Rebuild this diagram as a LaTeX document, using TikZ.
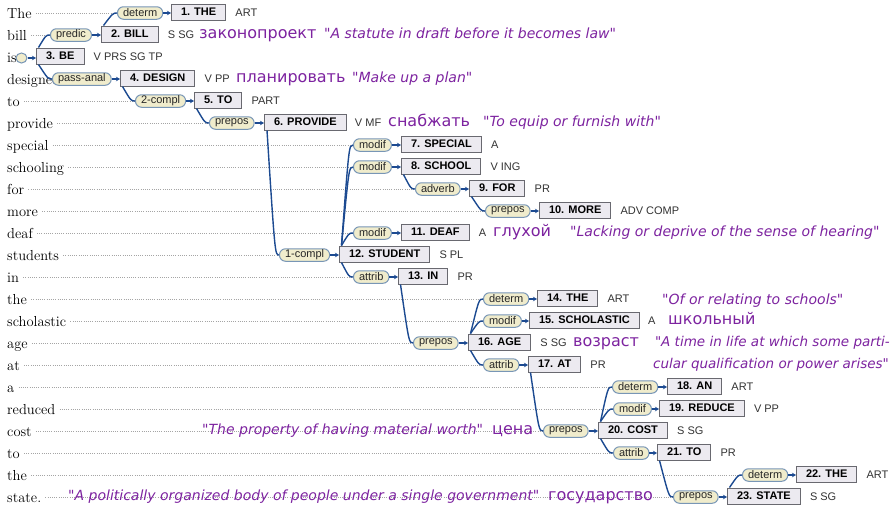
\documentclass[tikz,border=0pt]{standalone}
\usepackage{fontspec}
\newfontfamily\arialf{Liberation Sans}
\newfontfamily\rusf{DejaVu Sans}[ItalicFont={DejaVu Sans Oblique}]
\usetikzlibrary{arrows.meta,calc,shapes.geometric}
\definecolor{boxfill}{RGB}{236,234,240}
\definecolor{boxline}{RGB}{105,105,112}
\definecolor{labfill}{RGB}{240,236,204}
\definecolor{labline}{RGB}{120,150,182}
\definecolor{conncol}{RGB}{28,74,145}
\definecolor{rupurple}{RGB}{125,35,160}
\definecolor{dotcol}{RGB}{165,165,165}
\pgfdeclarelayer{bg}
\pgfsetlayers{bg,main}
\begin{document}
\begin{tikzpicture}[x=1pt,y=-1pt,
  word/.style={font=\fontsize{14.5}{16}\selectfont, text=black, anchor=base west, inner sep=0pt},
  box/.style={draw=boxline, fill=boxfill, line width=1pt, font=\arialf\bfseries\fontsize{11}{13}\selectfont, inner xsep=9.5pt, inner ysep=0pt, minimum height=16pt, anchor=west},
  lab/.style={draw=labline, fill=labfill, line width=1pt, rounded corners=6pt, font=\arialf\fontsize{11}{13}\selectfont, text=black!85, inner xsep=5.5pt, inner ysep=0pt, minimum height=12.5pt, anchor=west},
  tag/.style={font=\arialf\fontsize{11}{13}\selectfont, text=black!80, anchor=base west, inner sep=0pt},
  rus/.style={font=\rusf\fontsize{16}{18}\selectfont, text=rupurple, anchor=base west, inner sep=0pt},
  gloss/.style={font=\rusf\itshape\fontsize{14}{16}\selectfont, text=rupurple, anchor=base west, inner sep=0pt},
  conn/.style={draw=conncol, line width=1.4pt},
  arr/.style={draw=conncol, line width=1.1pt, -{Stealth[length=4pt,width=4.5pt]}},
  dotl/.style={draw=dotcol, line width=0.7pt, dash pattern=on 0.8pt off 1.4pt}
]
\useasboundingbox (0,0) rectangle (896,507);

% sentence words
\node[word] (w0) at (7,18) {The};
\node[word] (w1) at (7,40) {bill};
\node[word] (w2) at (7,62) {is};
\node[word] (w3) at (7,84) {designed};
\node[word] (w4) at (7,106) {to};
\node[word] (w5) at (7,128) {provide};
\node[word] (w6) at (7,150) {special};
\node[word] (w7) at (7,172) {schooling};
\node[word] (w8) at (7,194) {for};
\node[word] (w9) at (7,216) {more};
\node[word] (w10) at (7,238) {deaf};
\node[word] (w11) at (7,260) {students};
\node[word] (w12) at (7,282) {in};
\node[word] (w13) at (7,304) {the};
\node[word] (w14) at (7,326) {scholastic};
\node[word] (w15) at (7,348) {age};
\node[word] (w16) at (7,370) {at};
\node[word] (w17) at (7,392) {a};
\node[word] (w18) at (7,414) {reduced};
\node[word] (w19) at (7,436) {cost};
\node[word] (w20) at (7,458) {to};
\node[word] (w21) at (7,480) {the};
\node[word] (w22) at (7,502) {state.};

% glosses and translations
\node[rus] (r2) at (199,38.5) {законопроект};
\node[gloss] (g2) at (324,38.5) {"A statute in draft before it becomes law"};
\node[rus] (r4) at (236,82.5) {планировать};
\node[gloss] (g4) at (352,82.5) {"Make up a plan"};
\node[rus] (r6) at (388,126.5) {снабжать};
\node[gloss] (g6) at (483,126.5) {"To equip or furnish with"};
\node[rus] (r11) at (493,236.5) {глухой};
\node[gloss] (g11) at (570,236.5) {"Lacking or deprive of the sense of hearing"};
\node[gloss] (g14) at (662,304) {"Of or relating to schools"};
\node[rus] (r15) at (668,324.5) {школьный};
\node[rus] (r16) at (573,346.5) {возраст};
\node[gloss, anchor=base east, font=\rusf\itshape\fontsize{13.5}{16}\selectfont] (g16) at (890,346.5) {"A time in life at which some parti-};
\node[gloss, anchor=base east, font=\rusf\itshape\fontsize{13.5}{16}\selectfont] (g16b) at (889,368.5) {cular qualification or power arises"};
\node[gloss] (g20) at (202,434.5) {"The property of having material worth"};
\node[rus] (r20) at (492,434.5) {цена};
\node[gloss] (g23) at (68,500.5) {"A politically organized body of people under a single government"};
\node[rus] (r23) at (548,500.5) {государство};

% word boxes
\node[box] (n1) at (171,12) {1. THE};
\node[box] (n2) at (101,34) {2. BILL};
\node[box] (n3) at (36,56) {3. BE};
\node[box] (n4) at (120,78) {4. DESIGN};
\node[box] (n5) at (194,100) {5. TO};
\node[box] (n6) at (264,122) {6. PROVIDE};
\node[box] (n7) at (401,144) {7. SPECIAL};
\node[box] (n8) at (401,166) {8. SCHOOL};
\node[box] (n9) at (469,188) {9. FOR};
\node[box] (n10) at (539,210) {10. MORE};
\node[box] (n11) at (401,232) {11. DEAF};
\node[box] (n12) at (339,254) {12. STUDENT};
\node[box] (n13) at (398,276) {13. IN};
\node[box] (n14) at (537,298) {14. THE};
\node[box] (n15) at (529,320) {15. SCHOLASTIC};
\node[box] (n16) at (468,342) {16. AGE};
\node[box] (n17) at (528,364) {17. AT};
\node[box] (n18) at (667,386) {18. AN};
\node[box] (n19) at (659,408) {19. REDUCE};
\node[box] (n20) at (598,430) {20. COST};
\node[box] (n21) at (657,452) {21. TO};
\node[box] (n22) at (796,474) {22. THE};
\node[box] (n23) at (727,496) {23. STATE};

% grammatical tags
\node[tag] at ($(n1.east)+(9,4.5)$) {ART};
\node[tag] at ($(n2.east)+(9,4.5)$) {S SG};
\node[tag] at ($(n3.east)+(9,4.5)$) {V PRS SG TP};
\node[tag] at ($(n4.east)+(9,4.5)$) {V PP};
\node[tag] at ($(n5.east)+(9,4.5)$) {PART};
\node[tag] at ($(n6.east)+(8,4.5)$) {V MF};
\node[tag] at ($(n7.east)+(9,4.5)$) {A};
\node[tag] at ($(n8.east)+(9,4.5)$) {V ING};
\node[tag] at ($(n9.east)+(9,4.5)$) {PR};
\node[tag] at ($(n10.east)+(9,4.5)$) {ADV COMP};
\node[tag] at ($(n11.east)+(9,4.5)$) {A};
\node[tag] at ($(n12.east)+(9,4.5)$) {S PL};
\node[tag] at ($(n13.east)+(9,4.5)$) {PR};
\node[tag] at ($(n14.east)+(9,4.5)$) {ART};
\node[tag] at ($(n15.east)+(8,4.5)$) {A};
\node[tag] at ($(n16.east)+(9,4.5)$) {S SG};
\node[tag] at ($(n17.east)+(9,4.5)$) {PR};
\node[tag] at ($(n18.east)+(9,4.5)$) {ART};
\node[tag] at ($(n19.east)+(9,4.5)$) {V PP};
\node[tag] at ($(n20.east)+(9,4.5)$) {S SG};
\node[tag] at ($(n21.east)+(9,4.5)$) {PR};
\node[tag] at ($(n22.east)+(9,4.5)$) {ART};
\node[tag] at ($(n23.east)+(9,4.5)$) {S SG};

% relation labels
\node[lab] (l1) at (117,13) {determ};
\node[lab] (l2) at (50,35) {predic};
\node[lab] (l4) at (52,79) {pass-anal};
\node[lab] (l5) at (135,101) {2-compl};
\node[lab] (l6) at (209,123) {prepos};
\node[lab] (l7) at (353,145) {modif};
\node[lab] (l8) at (353,167) {modif};
\node[lab] (l9) at (415,189) {adverb};
\node[lab] (l10) at (485,211) {prepos};
\node[lab] (l11) at (353,233) {modif};
\node[lab] (l12) at (279,255) {1-compl};
\node[lab] (l13) at (353,277) {attrib};
\node[lab] (l14) at (483,299) {determ};
\node[lab] (l15) at (483,321) {modif};
\node[lab] (l16) at (413,343) {prepos};
\node[lab] (l17) at (483,365) {attrib};
\node[lab] (l18) at (612,387) {determ};
\node[lab] (l19) at (613,409) {modif};
\node[lab] (l20) at (543,431) {prepos};
\node[lab] (l21) at (613,453) {attrib};
\node[lab] (l22) at (742,475) {determ};
\node[lab] (l23) at (673,497) {prepos};

% root marker
\node[ellipse, draw=labline, fill=labfill, line width=1pt, minimum width=11pt, minimum height=10pt, inner sep=0pt] (root) at (21.5,58) {};

% white page and dotted guide lines, behind everything
\begin{pgfonlayer}{bg}
\fill[white] (0,0) rectangle (896,507);
\draw[dotl] ($(w0.base east)+(4,-5)$) -- (l1.west);
\draw[dotl] ($(w1.base east)+(4,-5)$) -- (l2.west);
\draw[dotl] ($(w4.base east)+(4,-5)$) -- (l5.west);
\draw[dotl] ($(w5.base east)+(4,-5)$) -- (l6.west);
\draw[dotl] ($(w6.base east)+(4,-5)$) -- (l7.west);
\draw[dotl] ($(w7.base east)+(4,-5)$) -- (l8.west);
\draw[dotl] ($(w8.base east)+(4,-5)$) -- (l9.west);
\draw[dotl] ($(w9.base east)+(4,-5)$) -- (l10.west);
\draw[dotl] ($(w10.base east)+(4,-5)$) -- (l11.west);
\draw[dotl] ($(w11.base east)+(4,-5)$) -- (l12.west);
\draw[dotl] ($(w12.base east)+(4,-5)$) -- (l13.west);
\draw[dotl] ($(w13.base east)+(4,-5)$) -- (l14.west);
\draw[dotl] ($(w14.base east)+(4,-5)$) -- (l15.west);
\draw[dotl] ($(w15.base east)+(4,-5)$) -- (l16.west);
\draw[dotl] ($(w16.base east)+(4,-5)$) -- (l17.west);
\draw[dotl] ($(w17.base east)+(4,-5)$) -- (l18.west);
\draw[dotl] ($(w18.base east)+(4,-5)$) -- (l19.west);
\draw[dotl] ($(w19.base east)+(4,-5)$) -- (l20.west);
\draw[dotl] ($(w20.base east)+(4,-5)$) -- (l21.west);
\draw[dotl] ($(w21.base east)+(4,-5)$) -- (l22.west);
\draw[dotl] ($(w22.base east)+(4,-5)$) -- (l23.west);
\end{pgfonlayer}

% head-to-label connectors (straight, bending into the label at the end)
\draw[conn] ($(n2.north west)+(2.5,0)$) .. controls ($(l1.west)+(-4,0)$) .. (l1.west);
\draw[conn] ($(n3.north west)+(2.5,0)$) .. controls ($(l2.west)+(-4,0)$) .. (l2.west);
\draw[conn] ($(n3.south west)+(2.5,0)$) .. controls ($(l4.west)+(-4,0)$) .. (l4.west);
\draw[conn] ($(n4.south west)+(2.5,0)$) .. controls ($(l5.west)+(-4,0)$) .. (l5.west);
\draw[conn] ($(n5.south west)+(2.5,0)$) .. controls ($(l6.west)+(-4,0)$) .. (l6.west);
\draw[conn] ($(n6.south west)+(3,0)$) .. controls ($(l12.west)+(-4,0)$) .. (l12.west);
\draw[conn] ($(n12.north west)+(2.5,0)$) .. controls ($(l7.west)+(-4,0)$) .. (l7.west);
\draw[conn] ($(n12.north west)+(2.5,0)$) .. controls ($(l8.west)+(-4,0)$) .. (l8.west);
\draw[conn] ($(n12.north west)+(2.5,0)$) .. controls ($(l11.west)+(-4,0)$) .. (l11.west);
\draw[conn] ($(n12.south west)+(2.5,0)$) .. controls ($(l13.west)+(-4,0)$) .. (l13.west);
\draw[conn] ($(n8.south west)+(2.5,0)$) .. controls ($(l9.west)+(-4,0)$) .. (l9.west);
\draw[conn] ($(n9.south west)+(2.5,0)$) .. controls ($(l10.west)+(-4,0)$) .. (l10.west);
\draw[conn] ($(n13.south west)+(2.5,0)$) .. controls ($(l16.west)+(-4,0)$) .. (l16.west);
\draw[conn] ($(n16.north west)+(2.5,0)$) .. controls ($(l14.west)+(-4,0)$) .. (l14.west);
\draw[conn] ($(n16.north west)+(2.5,0)$) .. controls ($(l15.west)+(-4,0)$) .. (l15.west);
\draw[conn] ($(n16.south west)+(2.5,0)$) .. controls ($(l17.west)+(-4,0)$) .. (l17.west);
\draw[conn] ($(n17.south west)+(2.5,0)$) .. controls ($(l20.west)+(-4,0)$) .. (l20.west);
\draw[conn] ($(n20.north west)+(2.5,0)$) .. controls ($(l18.west)+(-4,0)$) .. (l18.west);
\draw[conn] ($(n20.north west)+(2.5,0)$) .. controls ($(l19.west)+(-4,0)$) .. (l19.west);
\draw[conn] ($(n20.south west)+(2.5,0)$) .. controls ($(l21.west)+(-4,0)$) .. (l21.west);
\draw[conn] ($(n21.south west)+(2.5,0)$) .. controls ($(l23.west)+(-4,0)$) .. (l23.west);
\draw[conn] ($(n23.north west)+(2.5,0)$) .. controls ($(l22.west)+(-4,0)$) .. (l22.west);

% label-to-dependent arrows
\draw[arr] (root.east) -- (root.east -| n3.west);
\draw[arr] (l1.east) -- (l1.east -| n1.west);
\draw[arr] (l2.east) -- (l2.east -| n2.west);
\draw[arr] (l4.east) -- (l4.east -| n4.west);
\draw[arr] (l5.east) -- (l5.east -| n5.west);
\draw[arr] (l6.east) -- (l6.east -| n6.west);
\draw[arr] (l7.east) -- (l7.east -| n7.west);
\draw[arr] (l8.east) -- (l8.east -| n8.west);
\draw[arr] (l9.east) -- (l9.east -| n9.west);
\draw[arr] (l10.east) -- (l10.east -| n10.west);
\draw[arr] (l11.east) -- (l11.east -| n11.west);
\draw[arr] (l12.east) -- (l12.east -| n12.west);
\draw[arr] (l13.east) -- (l13.east -| n13.west);
\draw[arr] (l14.east) -- (l14.east -| n14.west);
\draw[arr] (l15.east) -- (l15.east -| n15.west);
\draw[arr] (l16.east) -- (l16.east -| n16.west);
\draw[arr] (l17.east) -- (l17.east -| n17.west);
\draw[arr] (l18.east) -- (l18.east -| n18.west);
\draw[arr] (l19.east) -- (l19.east -| n19.west);
\draw[arr] (l20.east) -- (l20.east -| n20.west);
\draw[arr] (l21.east) -- (l21.east -| n21.west);
\draw[arr] (l22.east) -- (l22.east -| n22.west);
\draw[arr] (l23.east) -- (l23.east -| n23.west);
\end{tikzpicture}
\end{document}
